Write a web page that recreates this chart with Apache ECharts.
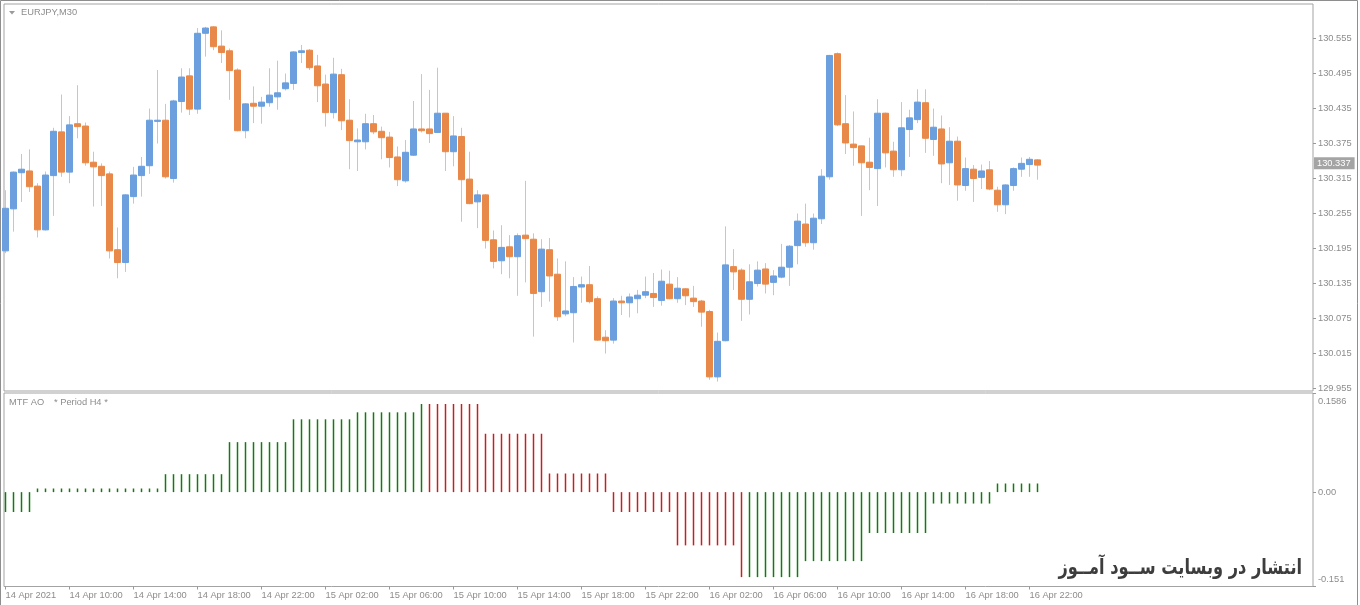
<!DOCTYPE html>
<html><head><meta charset="utf-8">
<script src="https://cdn.jsdelivr.net/npm/echarts@6/dist/echarts.min.js"></script>
<style>html,body{margin:0;padding:0;background:#fff}#c{width:1360px;height:605px}</style>
</head><body><div id="c"></div>
<script>
// ---- data (EURJPY M30, 14 Apr 2021 06:00 -> 16 Apr 22:30) ----
const open = [130.190,130.262,130.324,130.327,130.301,130.226,130.319,130.394,130.325,130.408,
130.404,130.342,130.335,130.322,130.192,130.170,130.283,130.319,130.336,130.412,
130.414,130.314,130.446,130.490,130.433,130.563,130.574,130.541,130.533,130.500,
130.396,130.443,130.438,130.444,130.454,130.468,130.477,130.530,130.534,130.507,
130.476,130.427,130.492,130.414,130.377,130.377,130.408,130.395,130.385,130.351,
130.310,130.354,130.399,130.399,130.393,130.426,130.360,130.386,130.313,130.274,
130.286,130.209,130.173,130.197,130.180,130.217,130.210,130.120,130.192,130.150,
130.082,130.084,130.128,130.132,130.108,130.042,130.037,130.104,130.101,130.108,
130.114,130.117,130.105,130.133,130.108,130.125,130.109,130.104,130.086,129.974,
130.036,130.163,130.157,130.107,130.134,130.159,130.136,130.145,130.162,130.199,
130.236,130.204,130.245,130.317,130.528,130.408,130.373,130.370,130.342,130.331,
130.426,130.361,130.329,130.398,130.415,130.444,130.381,130.399,130.341,130.378,
130.302,130.330,130.316,130.329,130.294,130.269,130.302,130.330,130.338,130.346];
const close = [130.263,130.325,130.330,130.300,130.226,130.320,130.395,130.325,130.406,130.403,
130.341,130.334,130.319,130.190,130.170,130.286,130.320,130.335,130.414,130.414,
130.317,130.447,130.488,130.433,130.563,130.572,130.540,130.530,130.499,130.396,
130.442,130.438,130.445,130.457,130.461,130.478,130.531,130.533,130.504,130.473,
130.427,130.493,130.413,130.379,130.380,130.408,130.394,130.384,130.350,130.312,
130.359,130.399,130.396,130.391,130.426,130.360,130.387,130.312,130.271,130.286,
130.208,130.172,130.196,130.180,130.216,130.211,130.117,130.193,130.147,130.077,
130.087,130.129,130.132,130.103,130.037,130.036,130.104,130.101,130.111,130.114,
130.120,130.110,130.138,130.108,130.126,130.113,130.103,130.085,129.974,130.035,
130.166,130.154,130.107,130.137,130.157,130.133,130.147,130.162,130.198,130.241,
130.204,130.246,130.318,130.525,130.406,130.375,130.367,130.341,130.333,130.426,
130.358,130.329,130.401,130.418,130.445,130.383,130.402,130.339,130.378,130.303,
130.331,130.314,130.327,130.296,130.269,130.303,130.331,130.340,130.347,130.337];
const high = [130.294,130.326,130.356,130.364,130.306,130.326,130.401,130.458,130.421,130.474,
130.410,130.360,130.340,130.326,130.230,130.287,130.334,130.351,130.434,130.500,
130.442,130.449,130.503,130.503,130.572,130.574,130.575,130.568,130.537,130.503,
130.443,130.472,130.454,130.503,130.516,130.494,130.532,130.543,130.536,130.526,
130.492,130.521,130.502,130.450,130.400,130.425,130.423,130.403,130.394,130.369,
130.380,130.447,130.493,130.466,130.504,130.426,130.421,130.401,130.360,130.294,
130.287,130.225,130.234,130.217,130.220,130.310,130.220,130.210,130.212,130.177,
130.172,130.145,130.146,130.164,130.112,130.054,130.109,130.113,130.117,130.123,
130.146,130.152,130.158,130.156,130.145,130.126,130.130,130.106,130.089,130.050,
130.232,130.193,130.160,130.167,130.172,130.169,130.157,130.202,130.200,130.254,
130.271,130.254,130.330,130.526,130.530,130.457,130.429,130.370,130.384,130.450,
130.427,130.377,130.445,130.432,130.467,130.467,130.434,130.422,130.402,130.386,
130.350,130.337,130.338,130.344,130.300,130.304,130.333,130.350,130.351,130.347];
const low = [130.186,130.223,130.274,130.291,130.213,130.225,130.250,130.317,130.306,130.383,
130.336,130.266,130.267,130.177,130.143,130.154,130.271,130.283,130.322,130.374,
130.314,130.307,130.427,130.423,130.425,130.523,130.534,130.512,130.449,130.395,
130.383,130.409,130.408,130.437,130.432,130.465,130.466,130.512,130.500,130.445,
130.403,130.417,130.397,130.330,130.327,130.364,130.390,130.347,130.333,130.301,
130.307,130.353,130.393,130.375,130.392,130.327,130.335,130.240,130.270,130.229,
130.194,130.160,130.150,130.143,130.113,130.136,130.043,130.094,130.103,130.070,
130.078,130.033,130.101,130.100,130.036,130.014,130.031,130.080,130.076,130.083,
130.109,130.094,130.096,130.107,130.101,130.097,130.094,130.060,129.969,129.966,
130.035,130.123,130.070,130.081,130.129,130.117,130.114,130.143,130.130,130.167,
130.197,130.192,130.236,130.312,130.404,130.356,130.336,130.250,130.294,130.267,
130.333,130.317,130.318,130.351,130.409,130.358,130.353,130.306,130.303,130.276,
130.293,130.274,130.296,130.294,130.257,130.253,130.293,130.317,130.317,130.312];
// MTF AO (Period H4) value shown on each M30 bar
const ao = [-0.0318,-0.0318,-0.0318,-0.0318,
0.0058,0.0058,0.0058,0.0058,0.0058,0.0058,0.0058,0.0058,0.0058,0.0058,0.0058,0.0058,0.0058,0.0058,0.0058,0.0058,
0.0287,0.0287,0.0287,0.0287,0.0287,0.0287,0.0287,0.0287,
0.0800,0.0800,0.0800,0.0800,0.0800,0.0800,0.0800,0.0800,
0.1165,0.1165,0.1165,0.1165,0.1165,0.1165,0.1165,0.1165,
0.1277,0.1277,0.1277,0.1277,0.1277,0.1277,0.1277,0.1277,
0.1410,0.1410,0.1410,0.1410,0.1410,0.1410,0.1410,0.1410,
0.0934,0.0934,0.0934,0.0934,0.0934,0.0934,0.0934,0.0934,
0.0298,0.0298,0.0298,0.0298,0.0298,0.0298,0.0298,0.0298,
-0.0318,-0.0318,-0.0318,-0.0318,-0.0318,-0.0318,-0.0318,-0.0318,
-0.0852,-0.0852,-0.0852,-0.0852,-0.0852,-0.0852,-0.0852,-0.0852,
-0.1360,-0.1360,-0.1360,-0.1360,-0.1360,-0.1360,-0.1360,-0.1360,
-0.1104,-0.1104,-0.1104,-0.1104,-0.1104,-0.1104,-0.1104,-0.1104,
-0.0654,-0.0654,-0.0654,-0.0654,-0.0654,-0.0654,-0.0654,-0.0654,
-0.0183,-0.0183,-0.0183,-0.0183,-0.0183,-0.0183,-0.0183,-0.0183,
0.0138,0.0138,0.0138,0.0138,0.0138,0.0138];
// G = green (rising), R = red (falling)
const aoColor = ('GGGGGGGGGGGGGGGGGGGGGGGGGGGGGGGGGGGGGGGGGGGGGGGGGGGGG' +
 'RRRRRRRRRRRRRRRRRRRRRRRRRRRRRRRRRRRRRRRR' +
 'GGGGGGGGGGGGGGGGGGGGGGGGGGGGGGGGGGGGG').split('');
const tickLabels = ['14 Apr 2021','14 Apr 10:00','14 Apr 14:00','14 Apr 18:00','14 Apr 22:00',
'15 Apr 02:00','15 Apr 06:00','15 Apr 10:00','15 Apr 14:00','15 Apr 18:00','15 Apr 22:00',
'16 Apr 02:00','16 Apr 06:00','16 Apr 10:00','16 Apr 14:00','16 Apr 18:00','16 Apr 22:00'];
const barsPerLabel = 8;
const priceTicks = [130.555,130.495,130.435,130.375,130.315,130.255,130.195,130.135,130.075,130.015,129.955];
const aoTicks = [0.1586, 0.00, -0.151];
const aoTickText = ['0.1586', '0.00', '-0.151'];

// ---- chart ----
const BLUE = '#6b9fdd', ORANGE = '#e8894a', WICK = '#c6c6c6';
const GREEN = '#137a13', RED = '#c81e1e';
const TXT = '#8c8c8c', FONT = "'Liberation Sans', Arial, sans-serif", FS = 9.3;
const N = open.length;
const idx = open.map((_, i) => i);
const wickData = idx.map(i => [i, open[i], close[i], low[i], high[i]]);
const bodyData = idx.map(i => [i, open[i], close[i], Math.min(open[i], close[i]), Math.max(open[i], close[i])]);
const aoData = idx.map(i => ({ value: [i, ao[i]], itemStyle: { color: aoColor[i] === 'G' ? GREEN : RED } }));
const tickIdx = tickLabels.map((_, i) => i * barsPerLabel);
const PLOT_W = 1309;
const xMin = -0.1875, xMax = xMin + PLOT_W / 8;

const chart = echarts.init(document.getElementById('c'), null, { renderer: 'canvas' });
chart.setOption({
  animation: false,
  backgroundColor: '#ffffff',
  grid: [
    { left: 4, top: 4, width: PLOT_W, height: 387, show: true, borderColor: '#a3a3a3', borderWidth: 1, backgroundColor: 'transparent' },
    { left: 4, top: 393, width: PLOT_W, height: 193.5, show: true, borderColor: '#a3a3a3', borderWidth: 1, backgroundColor: 'transparent' }
  ],
  xAxis: [
    { type: 'value', gridIndex: 0, min: xMin, max: xMax, show: false, axisLine: { onZero: false } },
    { type: 'value', gridIndex: 1, min: xMin, max: xMax,
      axisLine: { show: false, onZero: false }, splitLine: { show: false },
      axisTick: { show: true, length: 3, lineStyle: { color: '#999' }, customValues: tickIdx },
      axisLabel: { customValues: tickIdx, formatter: v => tickLabels[Math.round(v / barsPerLabel)] || '',
        align: 'left', margin: 4, color: TXT, fontSize: FS, fontFamily: FONT } }
  ],
  yAxis: [
    { type: 'value', gridIndex: 0, position: 'right', min: 129.9498, max: 130.6132,
      splitLine: { show: false }, axisLine: { show: false, onZero: false },
      axisTick: { show: true, length: 3, lineStyle: { color: '#999' }, customValues: priceTicks },
      axisLabel: { customValues: priceTicks, formatter: v => v.toFixed(3), margin: 5, color: TXT, fontSize: FS, fontFamily: FONT } },
    { type: 'value', gridIndex: 1, position: 'right', min: -0.151, max: 0.1586,
      splitLine: { show: false }, axisLine: { show: false, onZero: false },
      axisTick: { show: true, length: 3, lineStyle: { color: '#999' }, customValues: aoTicks },
      axisLabel: { customValues: aoTicks, margin: 5,
        formatter: v => {
          let k = 0, d = Infinity;
          aoTicks.forEach((t, j) => { if (Math.abs(t - v) < d) { d = Math.abs(t - v); k = j; } });
          return '{' + ['t', 'm', 'b'][k] + '|' + aoTickText[k] + '}';
        },
        rich: {
          t: { padding: [17, 0, 0, 0], color: TXT, fontSize: FS, fontFamily: FONT },
          m: { color: TXT, fontSize: FS, fontFamily: FONT },
          b: { padding: [0, 0, 14, 0], color: TXT, fontSize: FS, fontFamily: FONT }
        } } }
  ],
  series: [
    { type: 'candlestick', name: 'wick', xAxisIndex: 0, yAxisIndex: 0, data: wickData,
      encode: { x: 0, y: [1, 2, 3, 4] }, barWidth: 1, silent: true,
      itemStyle: { color: WICK, color0: WICK, borderColor: WICK, borderColor0: WICK, borderColorDoji: WICK, borderWidth: 1 } },
    { type: 'candlestick', name: 'EURJPY,M30', xAxisIndex: 0, yAxisIndex: 0, data: bodyData,
      encode: { x: 0, y: [1, 2, 3, 4] }, barWidth: 6, silent: true,
      itemStyle: { color: BLUE, color0: ORANGE, borderColor: BLUE, borderColor0: ORANGE, borderWidth: 1 },
      markLine: { silent: true, symbol: 'none', animation: false,
        lineStyle: { color: 'rgba(0,0,0,0)', width: 0 },
        label: { show: true, position: 'end', distance: 1, formatter: close[N - 1].toFixed(3),
          color: '#ffffff', backgroundColor: '#a4a4a4', padding: [2, 4, 1, 3], fontSize: FS, fontFamily: FONT },
        data: [{ yAxis: close[N - 1] }] } },
    { type: 'bar', name: 'MTF AO', xAxisIndex: 1, yAxisIndex: 1, data: aoData, barWidth: 1.5, silent: true }
  ],
  graphic: [
    { type: 'rect', shape: { x: 0.5, y: 0.5, width: 1357, height: 640 }, style: { fill: 'none', stroke: '#8e8e8e', lineWidth: 1 }, silent: true },
    { type: 'polygon', shape: { points: [[9, 11], [15, 11], [12, 14.5]] }, style: { fill: '#9a9a9a' }, silent: true },
    { type: 'text', x: 21, y: 12.7, style: { text: 'EURJPY,M30', fill: TXT, font: FS + 'px ' + FONT, textVerticalAlign: 'middle' }, silent: true },
    { type: 'text', x: 9, y: 402, style: { text: 'MTF AO', fill: TXT, font: FS + 'px ' + FONT, textVerticalAlign: 'middle' }, silent: true },
    { type: 'text', x: 54, y: 402, style: { text: '* Period H4 *', fill: TXT, font: FS + 'px ' + FONT, textVerticalAlign: 'middle' }, silent: true },
    { type: 'text', x: 1302, y: 569, scaleX: 0.77, style: { text: 'انتشار در وبسایت ســود آمــوز', fill: '#3d3d3d',
      font: "bold 21px 'DejaVu Sans', sans-serif", textAlign: 'right', textVerticalAlign: 'middle' }, silent: true }
  ]
});
</script></body></html>
